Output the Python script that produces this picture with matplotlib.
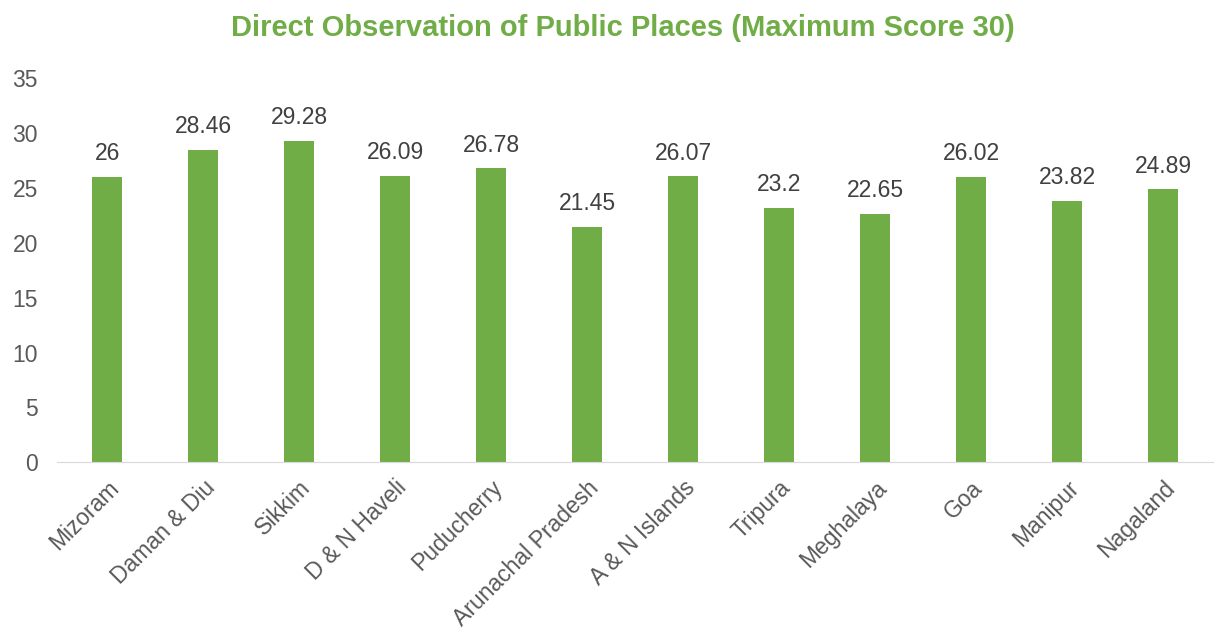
import matplotlib.pyplot as plt

plt.rcParams['font.family'] = ['Liberation Sans', 'DejaVu Sans']

# state names and their scores
states = ['Mizoram', 'Daman & Diu', 'Sikkim', 'D & N Haveli', 'Puducherry',
          'Arunachal Pradesh', 'A & N Islands', 'Tripura', 'Meghalaya',
          'Goa', 'Manipur', 'Nagaland']
scores = [26, 28.46, 29.28, 26.09, 26.78, 21.45, 26.07, 23.2, 22.65,
          26.02, 23.82, 24.89]
score_labels = ['26', '28.46', '29.28', '26.09', '26.78', '21.45', '26.07',
                '23.2', '22.65', '26.02', '23.82', '24.89']

green = '#70AD47'
grey = '#595959'

fig = plt.figure(figsize=(12.18, 6.35), dpi=100)
ax = fig.add_axes([0.047, 0.272, 0.949, 0.605])

x = range(len(states))
ax.bar(x, scores, width=0.31, color=green, zorder=2)

for i, (v, lab) in enumerate(zip(scores, score_labels)):
    ax.text(i, v + 1.05, lab, ha='center', va='bottom', fontsize=16.5, color='#404040')

ax.set_ylim(0, 35)
ax.set_xlim(-0.52, len(states) - 0.48)
ax.set_yticks(range(0, 36, 5))
ax.set_xticks(list(x))
ax.set_xticklabels(states, rotation=45, ha='right', rotation_mode='anchor')
ax.tick_params(axis='both', length=0, labelsize=16.5, colors=grey)
ax.tick_params(axis='x', pad=10)
ax.tick_params(axis='y', pad=14)

for side in ['top', 'right', 'left']:
    ax.spines[side].set_visible(False)
ax.spines['bottom'].set_color('#D9D9D9')

fig.text(0.511, 0.956, 'Direct Observation of Public Places (Maximum Score 30)',
         ha='center', va='center', fontsize=21, fontweight='bold', color=green)

fig.savefig('out.png', dpi=100)
